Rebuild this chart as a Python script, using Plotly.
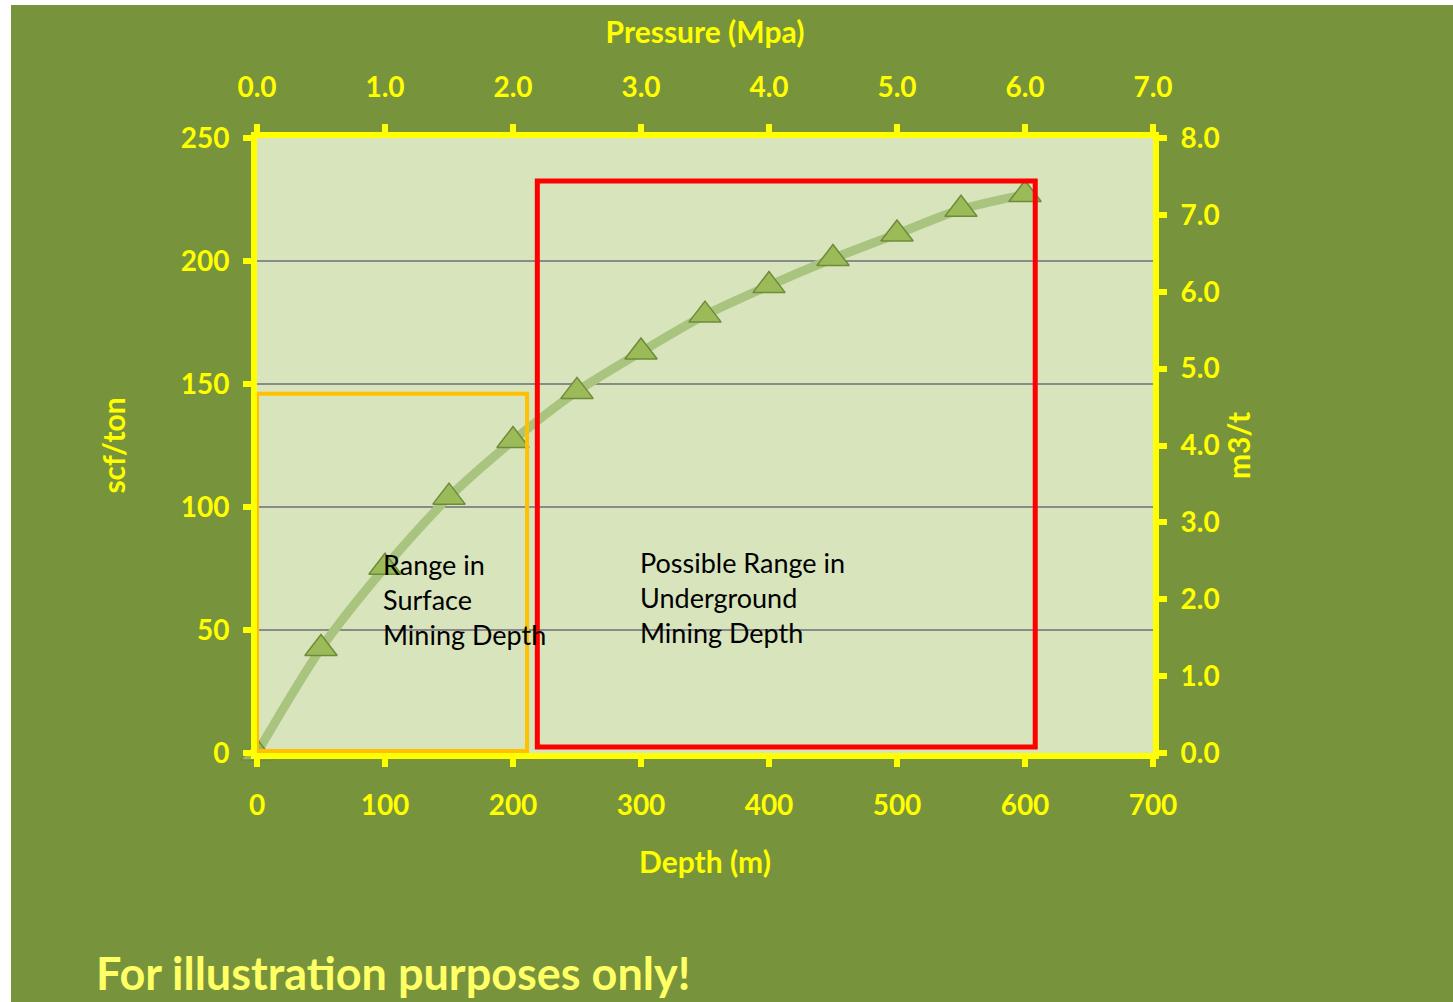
import plotly.graph_objects as go

# Gas content vs depth curve
depth_m = [0, 50, 100, 150, 200, 250, 300, 350, 400, 450, 500, 550, 600]
gas_scf_ton = [0, 42.5, 75.5, 104, 127, 147, 163, 178, 190, 201, 211, 221, 227]

# Axis tick settings
depth_ticks = [0, 100, 200, 300, 400, 500, 600, 700]
pressure_ticks = [0, 1, 2, 3, 4, 5, 6, 7]
scf_ticks = [0, 50, 100, 150, 200, 250]
m3t_ticks = [0, 1, 2, 3, 4, 5, 6, 7, 8]

# Depth ranges (depth m, scf/ton)
surface_box = dict(x0=0, x1=211, y0=0.8, y1=146)
underground_box = dict(x0=219, x1=608, y0=2.4, y1=232.5)

YELLOW = "#FFFF00"
BG_GREEN = "#77933C"
PLOT_BG = "#D8E4BC"
FONT = "Lato"

W, H = 1453, 1002
L, R, T, B = 257, 300, 138, 249
pw, ph = W - L - R, H - T - B


def px_to_paper_x(px):
    return (px - L) / pw


def px_to_paper_y(py):
    return (H - B - py) / ph


fig = go.Figure()

fig.add_trace(go.Scatter(
    x=depth_m, y=gas_scf_ton,
    mode="lines+markers",
    line=dict(color="#A9C47F", width=9, shape="spline", smoothing=0.8),
    marker=dict(symbol="triangle-up", size=28, color="#9BBB59",
                line=dict(color="#6F8A3A", width=1.5)),
    showlegend=False, cliponaxis=False,
))

# dummy traces to activate the secondary axes
fig.add_trace(go.Scatter(x=[None], y=[None], xaxis="x2", yaxis="y", showlegend=False))
fig.add_trace(go.Scatter(x=[None], y=[None], xaxis="x", yaxis="y2", showlegend=False))

tick_font = dict(family=FONT, size=28, color=YELLOW, weight="bold")
title_font = dict(family=FONT, size=30, color=YELLOW, weight="bold")
axis_common = dict(showline=True, linecolor=YELLOW, linewidth=6,
                   ticks="outside", tickcolor=YELLOW, tickwidth=6, ticklen=8,
                   tickfont=tick_font, zeroline=False)

shapes = [
    # slide background with thin white margin at left/top
    dict(type="rect", xref="paper", yref="paper",
         x0=px_to_paper_x(11), x1=px_to_paper_x(W + 5),
         y0=px_to_paper_y(H + 5), y1=px_to_paper_y(5),
         fillcolor=BG_GREEN, line=dict(width=0), layer="below"),
    dict(type="rect", xref="paper", yref="paper", x0=0, x1=1, y0=0, y1=1,
         fillcolor=PLOT_BG, line=dict(width=0), layer="below"),
    dict(type="rect", xref="x", yref="y", **surface_box,
         line=dict(color="#FFC000", width=4), layer="above"),
    dict(type="rect", xref="x", yref="y", **underground_box,
         line=dict(color="#FF0000", width=5), layer="above"),
]

annotations = [
    dict(x=97, y=84, xref="x", yref="y", xanchor="left", yanchor="top",
         text="Range in<br>Surface<br>Mining Depth", showarrow=False, align="left",
         font=dict(family=FONT, size=27, color="black")),
    dict(x=298, y=85, xref="x", yref="y", xanchor="left", yanchor="top",
         text="Possible Range in<br>Underground<br>Mining Depth", showarrow=False, align="left",
         font=dict(family=FONT, size=27, color="black")),
    dict(x=px_to_paper_x(94), y=px_to_paper_y(973), xref="paper", yref="paper",
         xanchor="left", yanchor="middle", showarrow=False,
         text="For illustration purposes only!",
         font=dict(family=FONT, size=45, color="#FFFF66", weight="bold")),
]

fig.update_layout(
    width=W, height=H,
    margin=dict(l=L, r=R, t=T, b=B),
    paper_bgcolor="white",
    plot_bgcolor="rgba(0,0,0,0)",
    xaxis=dict(range=[0, 700], tickvals=depth_ticks, showgrid=False,
               title=dict(text="Depth (m)", font=title_font, standoff=34),
               ticklabelstandoff=14, **axis_common),
    xaxis2=dict(range=[0, 7], tickvals=pressure_ticks, tickformat=".1f",
                overlaying="x", side="top", showgrid=False,
                title=dict(text="Pressure (Mpa)", font=title_font, standoff=18),
                ticklabelstandoff=16, **axis_common),
    yaxis=dict(range=[0, 250], tickvals=scf_ticks, showgrid=True,
               gridcolor="#8A8A8A", gridwidth=2,
               title=dict(text="scf/ton", font=title_font, standoff=48),
               ticklabelstandoff=8, **axis_common),
    yaxis2=dict(range=[0, 8], tickvals=m3t_ticks, tickformat=".1f",
                overlaying="y", side="right", showgrid=False,
                title=dict(text="m3/t", font=title_font, standoff=6),
                ticklabelstandoff=8, **axis_common),
    shapes=shapes,
    annotations=annotations,
)

fig.write_html("out.html")
